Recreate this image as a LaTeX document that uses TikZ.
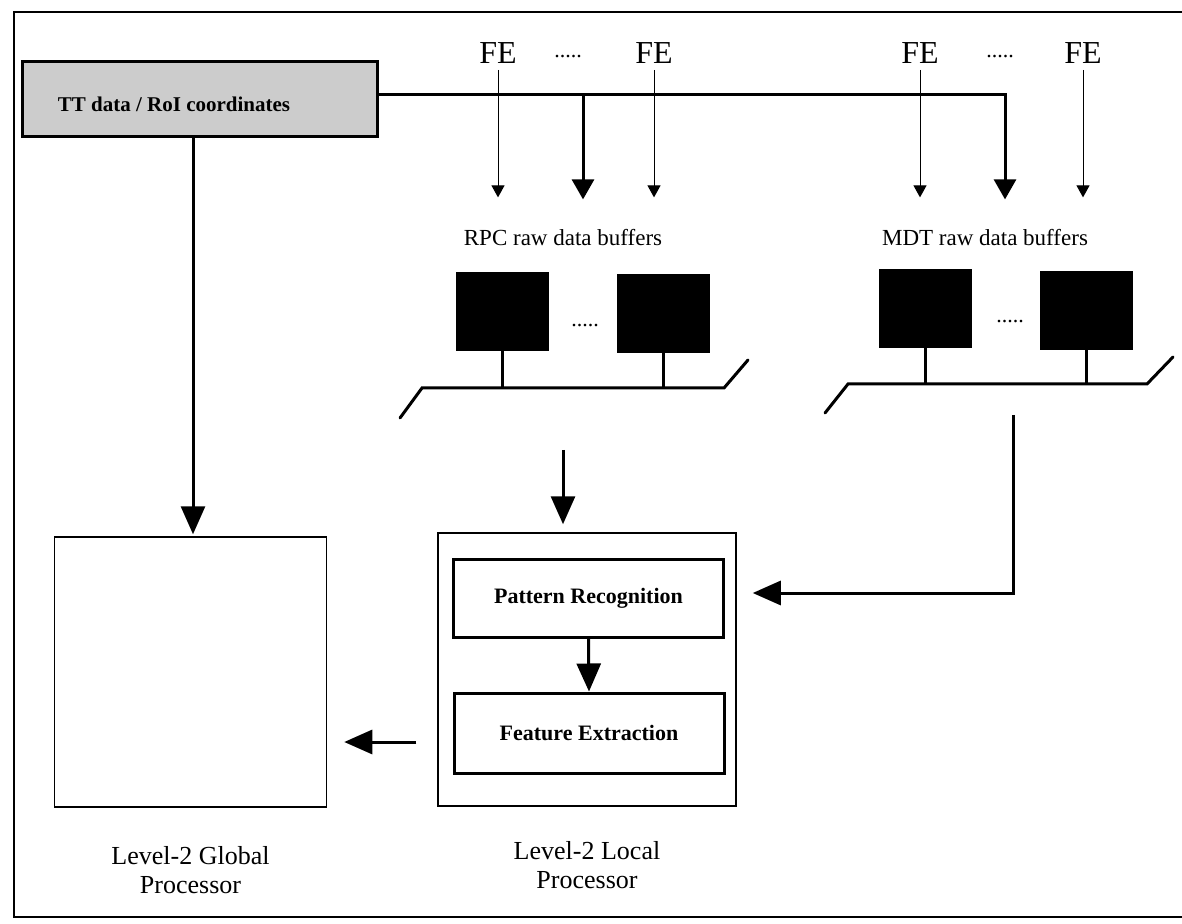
\documentclass[tikz,border=0pt]{standalone}
\usepackage{fontspec}
\setmainfont{Liberation Serif}
\usetikzlibrary{arrows.meta,positioning}

\begin{document}
\begin{tikzpicture}[x=0.5pt,y=-0.5pt,
    mainline/.style={line width=1.5pt},
    thinline/.style={line width=0.5pt},
    bigtip/.style={-{Triangle[length=14pt,width=12pt]}},
    midtip/.style={-{Triangle[length=10pt,width=11pt]}},
    smalltip/.style={-{Triangle[length=6pt,width=6.5pt]}},
    bufbox/.style={draw,fill=black,minimum width=46pt,minimum height=39pt,inner sep=0pt},
    procbox/.style={draw,line width=0.75pt,inner sep=0pt},
    stagebox/.style={draw,line width=1.5pt,minimum width=135pt,minimum height=39pt,inner sep=0pt,
        font=\fontsize{11}{13}\selectfont\bfseries},
    felabel/.style={font=\fontsize{16}{18}\selectfont,inner sep=1pt},
    buflabel/.style={font=\fontsize{11.5}{13}\selectfont,inner sep=1pt},
    proclabel/.style={font=\fontsize{13}{14.5}\selectfont,align=center,inner sep=0pt},
    dotlabel/.style={font=\fontsize{11}{13}\selectfont,inner sep=0pt}]
    % Set page size
    \useasboundingbox (0,0) rectangle (1182,924);

    % Draw outer frame
    \draw[line width=1.2pt] (1195,12) -- (14,12) -- (14,917) -- (1195,917);

    % Trigger data box
    \node[draw,line width=1.5pt,fill=gray!40,minimum width=177.5pt,minimum height=37.5pt,inner sep=0pt] (tt) at (199.5,99) {};
    \node[font=\fontsize{10.5}{12}\selectfont\bfseries,inner sep=0pt] (ttlbl) at (174,104) {TT data / RoI coordinates};

    % Front-end labels
    \node[felabel] (fe1) at (498,53) {FE};
    \node[dotlabel] (fedots1) at (568,57) {.....};
    \node[felabel] (fe2) at (654,53) {FE};
    \node[felabel] (fe3) at (920,53) {FE};
    \node[dotlabel] (fedots2) at (1000,57) {.....};
    \node[felabel] (fe4) at (1083,53) {FE};

    % Buffer labels and buffers
    \node[buflabel] (rpclbl) at (563,238) {RPC raw data buffers};
    \node[buflabel] (mdtlbl) at (985,238) {MDT raw data buffers};
    \node[bufbox] (rb1) at (502.5,311) {};
    \node[bufbox] (rb2) at (663,313) {};
    \node[dotlabel] (rbdots) at (585,326) {.....};
    \node[bufbox] (mb1) at (925.5,308) {};
    \node[bufbox] (mb2) at (1086,310) {};
    \node[dotlabel] (mbdots) at (1010,322) {.....};

    % Processors
    \node[procbox,minimum width=136pt,minimum height=135pt] (glob) at (190.5,672) {};
    \node[proclabel,below=19pt of glob] (globlbl) {Level-2 Global\\Processor};
    \node[procbox,minimum width=149pt,minimum height=136.5pt] (local) at (587,669.5) {};
    \node[proclabel,below=17pt of local] (locallbl) {Level-2 Local\\Processor};
    \node[stagebox] (pr) at (588.5,598.5) {Pattern Recognition};
    \node[stagebox,minimum height=40pt] (fx) at (589,733) {Feature Extraction};

    % Bus points
    \coordinate (rpcmid) at (583,95);
    \coordinate (mdtmid) at (1005,95);
    \coordinate (rpcbus) at (563,388);
    \coordinate (mdtbus) at (1013,384);

    % Draw front-end arrows
    \foreach \f in {fe1,fe2,fe3,fe4}
        \draw[thinline,smalltip,shorten <=2pt,shorten >=15pt] (\f.south) -- (\f.south |- rpclbl.north);

    % Draw trigger data lines
    \draw[mainline,midtip,shorten >=14pt] (tt.east |- rpcmid) -- (mdtmid) -- (mdtmid |- mdtlbl.north);
    \draw[mainline,midtip,shorten >=14pt] (rpcmid) -- (rpcmid |- rpclbl.north);
    \draw[mainline,bigtip,shorten >=1pt] (tt.south -| 193,0) -- (glob.north -| 193,0);

    % Draw buses
    \draw[mainline,line cap=round] (400,418) -- (422,388) -- (724,388) -- (748,360);
    \draw[mainline,line cap=round] (825,413) -- (848,384) -- (1147,384) -- (1173,357);
    \foreach \b in {rb1,rb2}
        \draw[mainline] (\b.south) -- (\b.south |- rpcbus);
    \foreach \b in {mb1,mb2}
        \draw[mainline] (\b.south) -- (\b.south |- mdtbus);

    % Draw data flow to processors
    \draw[mainline,bigtip,shorten <=31pt,shorten >=4pt] (rpcbus) -- (local.north -| rpcbus);
    \draw[mainline,bigtip,shorten <=15.5pt,shorten >=8pt] (mdtbus) -- (mdtbus |- 0,593) -- (local.east |- 0,593);
    \draw[mainline,bigtip] (pr.south) -- (fx.north);
    \draw[mainline,bigtip,shorten <=10.5pt,shorten >=8.5pt] (local.west |- 0,742) -- (glob.east |- 0,742);
\end{tikzpicture}
\end{document}
